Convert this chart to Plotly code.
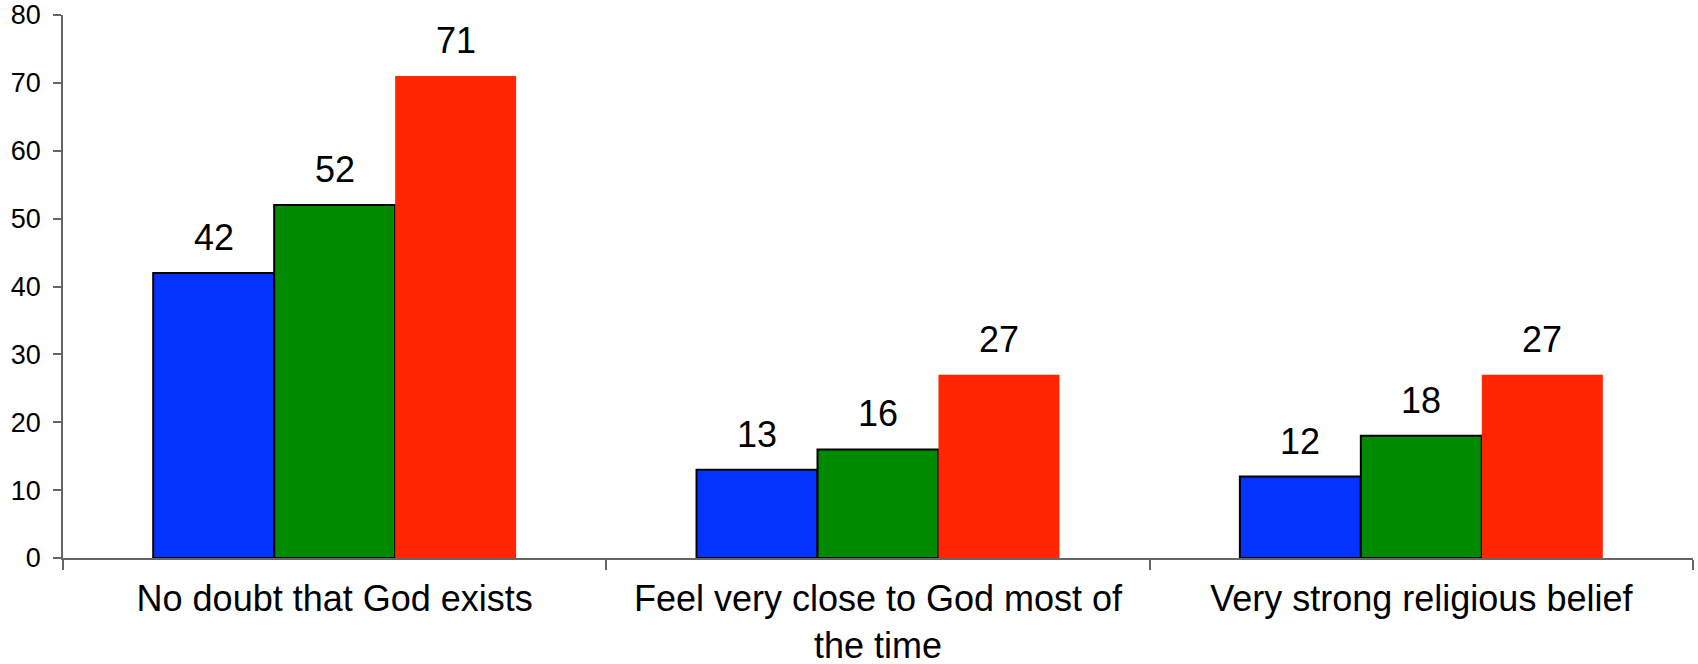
import plotly.graph_objects as go

categories = ["No doubt that God exists", "Feel very close to God most of<br>the time", "Very strong religious belief"]
series_names = ["Series 1", "Series 2", "Series 3"]
series_values = [
    [42, 13, 12],
    [52, 16, 18],
    [71, 27, 27],
]
series_colors = ["#0433FF", "#008A00", "#FF2600"]
series_outline = [2, 2, 0]
y_ticks = [0, 10, 20, 30, 40, 50, 60, 70, 80]

FONT = "Liberation Sans, Arial, sans-serif"
BARGAP = 0.332

fig = go.Figure()
for name, vals, col, lw in zip(series_names, series_values, series_colors, series_outline):
    fig.add_trace(go.Bar(
        name=name, x=categories, y=vals,
        marker=dict(color=col, line=dict(color="black", width=lw)),
        showlegend=False,
    ))

n = len(series_values)
w = (1 - BARGAP) / n
for k, vals in enumerate(series_values):
    for i, v in enumerate(vals):
        fig.add_annotation(
            x=i + (k - (n - 1) / 2) * w, y=v, xref="x", yref="y",
            text=str(v), showarrow=False, yanchor="bottom", yshift=13,
            font=dict(family=FONT, size=36, color="black"),
        )

fig.update_layout(
    width=1698, height=664,
    margin=dict(l=63, r=5, t=15, b=106),
    paper_bgcolor="white", plot_bgcolor="white",
    barmode="group", bargap=BARGAP, bargroupgap=0,
    font=dict(family=FONT, color="black"),
)
fig.update_xaxes(
    type="category", tickson="boundaries", ticks="outside", ticklen=10,
    tickcolor="#666666", tickwidth=1.5,
    showline=True, linecolor="#666666", linewidth=1.5,
    showgrid=False, tickfont=dict(size=36, family=FONT, color="black"),
    range=[-0.5, 2.5], automargin=False, ticklabelstandoff=8,
)
fig.update_yaxes(
    range=[0, 80], tickvals=y_ticks, ticks="outside", ticklen=8,
    tickcolor="#666666", tickwidth=1.5,
    showline=True, linecolor="#666666", linewidth=1.5,
    showgrid=False, zeroline=False, automargin=False, ticklabelstandoff=7,
    tickfont=dict(size=27, family=FONT, color="black"),
)

fig.write_html(
    "out.html",
    config={"displayModeBar": False},
    post_script="document.body.style.margin='0';document.body.style.overflow='hidden';",
)
